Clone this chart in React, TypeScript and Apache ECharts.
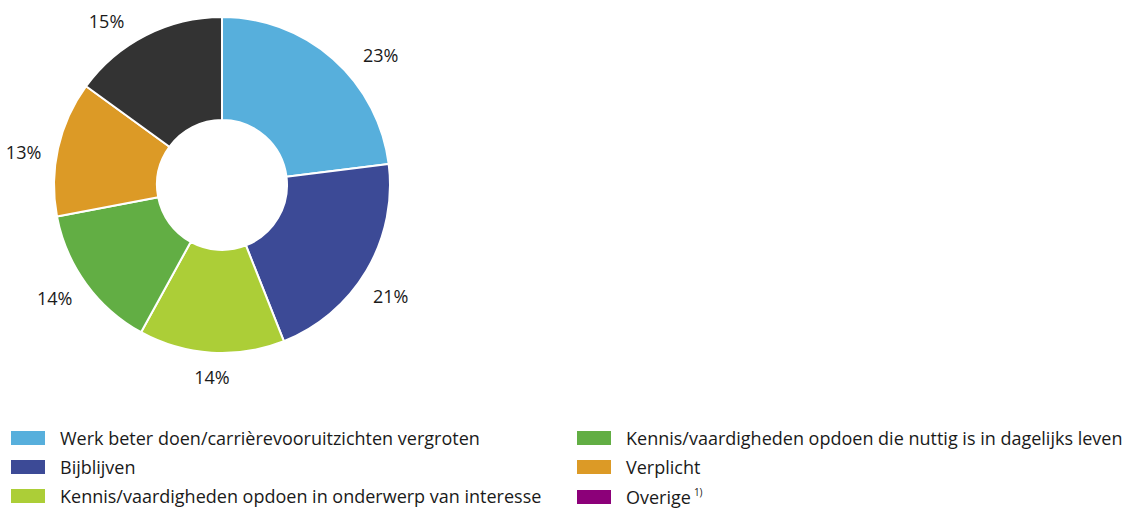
import React, { useEffect, useRef } from "react";
import * as echarts from "echarts";

const categories = [
  "Werk beter doen/carrièrevooruitzichten vergroten",
  "Bijblijven",
  "Kennis/vaardigheden opdoen in onderwerp van interesse",
  "Kennis/vaardigheden opdoen die nuttig is in dagelijks leven",
  "Verplicht",
  "Overige",
];
const values = [23, 21, 14, 14, 13, 15];
const sliceColors = ["#57AFDC", "#3C4A96", "#ACCE37", "#62AE44", "#DC9A26", "#333333"];
const legendColors = ["#57AFDC", "#3C4A96", "#ACCE37", "#62AE44", "#DC9A26", "#8C0079"];
// fine tuning of label placement (pixels)
const labelOffsets = [[9, 5], [-17, 19], [32, 12], [9, 7], [8, 6], [-3, -4]];

const FONT = "Open Sans";

export default function App() {
  const ref = useRef<HTMLDivElement>(null);
  useEffect(() => {
    document.body.style.margin = "0";
    const chart = echarts.init(ref.current!, null, { renderer: "svg" });
    const legendBase = {
      orient: "vertical",
      itemWidth: 36,
      itemHeight: 16,
      itemGap: 11,
      padding: 0,
      height: 120,
      icon: "rect",
      selectedMode: false,
      formatter: (n: string) => (n === "Overige" ? "Overige{sup|1)}" : n),
      textStyle: {
        fontFamily: FONT,
        fontSize: 18,
        lineHeight: 16,
        color: "#1a1a1a",
        padding: [0, 0, 0, 9],
        rich: {
          sup: { fontFamily: FONT, fontSize: 10, lineHeight: 16, padding: [0, 0, 10, 3], color: "#1a1a1a" },
        },
      },
    };
    chart.setOption({
      animation: false,
      legend: [
        {
          ...legendBase,
          left: 9,
          top: 429,
          data: categories.slice(0, 3).map((n, i) => ({ name: n, itemStyle: { color: legendColors[i] } })),
        },
        {
          ...legendBase,
          left: 575,
          top: 429,
          data: categories.slice(3).map((n, i) => ({ name: n, itemStyle: { color: legendColors[i + 3] } })),
        },
      ],
      series: [
        {
          type: "pie",
          center: [222, 185],
          radius: [65, 168],
          startAngle: 90,
          clockwise: true,
          silent: true,
          itemStyle: { borderColor: "#fff", borderWidth: 2 },
          label: {
            show: true,
            position: "outside",
            formatter: "{c}%",
            fontFamily: FONT,
            fontSize: 18,
            color: "#1a1a1a",
            overflow: "none",
          },
          labelLine: { show: false, length: 12, length2: 8 },
          data: categories.map((n, i) => ({
            name: n,
            value: values[i],
            itemStyle: { color: sliceColors[i] },
            label: { offset: labelOffsets[i] },
          })),
        },
      ],
    });
    return () => chart.dispose();
  }, []);
  return <div ref={ref} style={{ width: 1129, height: 509 }} />;
}
